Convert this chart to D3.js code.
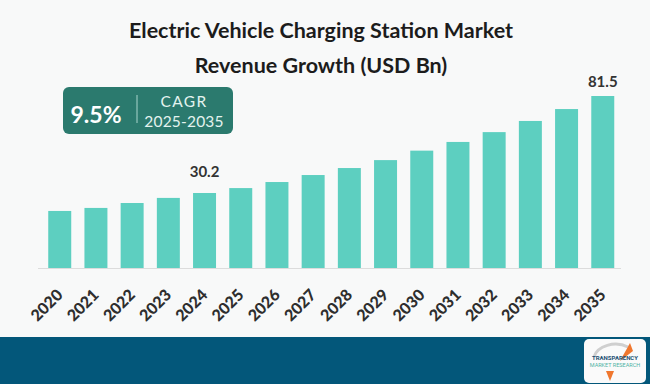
<!DOCTYPE html>
<html>
<head>
<meta charset="utf-8">
<script src="https://cdn.jsdelivr.net/npm/d3@7"></script>
<style>
  body { margin: 0; background: #f8f9f9; }
  svg { display: block; }
</style>
</head>
<body>
<script>
const years = ["2020", "2021", "2022", "2023", "2024", "2025", "2026", "2027",
    "2028", "2029", "2030", "2031", "2032", "2033", "2034", "2035"];
const revenue = [20.7, 22.3, 24.9, 27.6, 30.2, 32.8, 36.0, 39.7,
    43.4, 47.6, 52.6, 57.2, 62.4, 68.3, 74.6, 81.5];
const labelled = ["2024", "2035"];
const titleLines = ["Electric Vehicle Charging Station Market", "Revenue Growth (USD Bn)"];

const labelGap = {"2024": 16, "2035": 9};

const svgWidth = 650;
const svgHeight = 384;

const svg = d3.select("body")
    .append("svg")
    .attr("width", svgWidth)
    .attr("height", svgHeight);

svg.append("rect")
    .attr("width", svgWidth)
    .attr("height", svgHeight)
    .attr("fill", "#f8f9f9");

// title
svg.append("g")
    .selectAll("text")
    .data(titleLines)
    .enter()
    .append("text")
    .attr("x", 321)
    .attr("y", (d, i) => 38 + i * 35)
    .attr("text-anchor", "middle")
    .attr("font-family", "Lato, sans-serif")
    .attr("font-weight", "bold")
    .attr("font-size", "21.5px")
    .attr("fill", "#1c1c1c")
    .text(d => d);

const x = d3.scaleBand()
    .domain(years)
    .range([41, 621.5])
    .paddingInner(0.365)
    .paddingOuter(0.2);

// axis not starting at zero in the original picture
const y = d3.scaleLinear()
    .domain([-9.47, 81.5])
    .range([268, 96]);

svg.append("line")
    .attr("x1", 38).attr("x2", 621)
    .attr("y1", 268.5).attr("y2", 268.5)
    .attr("stroke", "#dcdcdc")
    .attr("stroke-width", 1);

svg.append("g")
    .selectAll("rect")
    .data(revenue)
    .enter()
    .append("rect")
    .attr("x", (d, i) => x(years[i]))
    .attr("y", d => y(d))
    .attr("width", x.bandwidth())
    .attr("height", d => y(y.domain()[0]) - y(d))
    .attr("fill", "#5dcfc0");

svg.append("g")
    .selectAll("text")
    .data(years.filter(yr => labelled.includes(yr)))
    .enter()
    .append("text")
    .attr("x", d => x(d) + x.bandwidth() / 2)
    .attr("y", d => y(revenue[years.indexOf(d)]) - labelGap[d])
    .attr("text-anchor", "middle")
    .attr("font-family", "Lato, sans-serif")
    .attr("font-weight", "bold")
    .attr("font-size", "15px")
    .attr("fill", "#333")
    .text(d => revenue[years.indexOf(d)].toFixed(1));

// rotated year labels
svg.append("g")
    .selectAll("text")
    .data(years)
    .enter()
    .append("text")
    .attr("transform", d => `translate(${x(d) + x.bandwidth() / 2 + 4}, 296) rotate(-45)`)
    .attr("text-anchor", "end")
    .attr("font-family", "Lato, sans-serif")
    .attr("font-weight", "900")
    .attr("font-size", "16px")
    .attr("fill", "#2e2e2e")
    .text(d => d);

// CAGR badge
const badge = svg.append("g").attr("transform", "translate(63, 87)");
badge.append("rect")
    .attr("width", 170).attr("height", 47)
    .attr("rx", 6)
    .attr("fill", "#2b7a6e");
badge.append("text")
    .attr("x", 33).attr("y", 36)
    .attr("text-anchor", "middle")
    .attr("font-family", "Lato, sans-serif")
    .attr("font-weight", "bold")
    .attr("font-size", "23px")
    .attr("fill", "#fff")
    .text("9.5%");
badge.append("line")
    .attr("x1", 74).attr("x2", 74)
    .attr("y1", 8).attr("y2", 36)
    .attr("stroke", "#a9d4cc").attr("stroke-width", 1);
badge.selectAll(".cagr")
    .data(["CAGR", "2025-2035"])
    .enter()
    .append("text")
    .attr("class", "cagr")
    .attr("x", 121)
    .attr("y", (d, i) => 20 + i * 20)
    .attr("text-anchor", "middle")
    .attr("font-family", "Lato, sans-serif")
    .attr("font-size", "15.5px")
    .attr("letter-spacing", (d, i) => i === 0 ? "1.3px" : "0.2px")
    .attr("fill", "#e3f3ef")
    .text(d => d);

// footer band and logo
svg.append("rect")
    .attr("x", 0).attr("y", 337)
    .attr("width", svgWidth).attr("height", svgHeight - 337)
    .attr("fill", "#03577a");

const logo = svg.append("g").attr("transform", "translate(584, 339)");
logo.append("rect")
    .attr("width", 62).attr("height", 44)
    .attr("rx", 5)
    .attr("fill", "#fafafa");
logo.append("path")
    .attr("d", "M10,18 A22,16 0 0 1 44,8")
    .attr("fill", "none")
    .attr("stroke", "#cfcfcf")
    .attr("stroke-width", 3);
logo.append("path")
    .attr("d", "M36,22 L46,4 L49,12 Z")
    .attr("fill", "#f0772e");
logo.append("path")
    .attr("d", "M30,32 L26,42 L22,32 Z")
    .attr("fill", "#f0772e");
logo.append("text")
    .attr("x", 31).attr("y", 21)
    .attr("text-anchor", "middle")
    .attr("font-family", "Roboto, sans-serif")
    .attr("font-weight", "bold")
    .attr("font-size", "6px")
    .attr("fill", "#1b4f72")
    .text("TRANSPARENCY");
logo.append("text")
    .attr("x", 31).attr("y", 28)
    .attr("text-anchor", "middle")
    .attr("font-family", "Roboto, sans-serif")
    .attr("font-size", "5.5px")
    .attr("fill", "#4fb3a4")
    .text("MARKET RESEARCH");
</script>
</body>
</html>
